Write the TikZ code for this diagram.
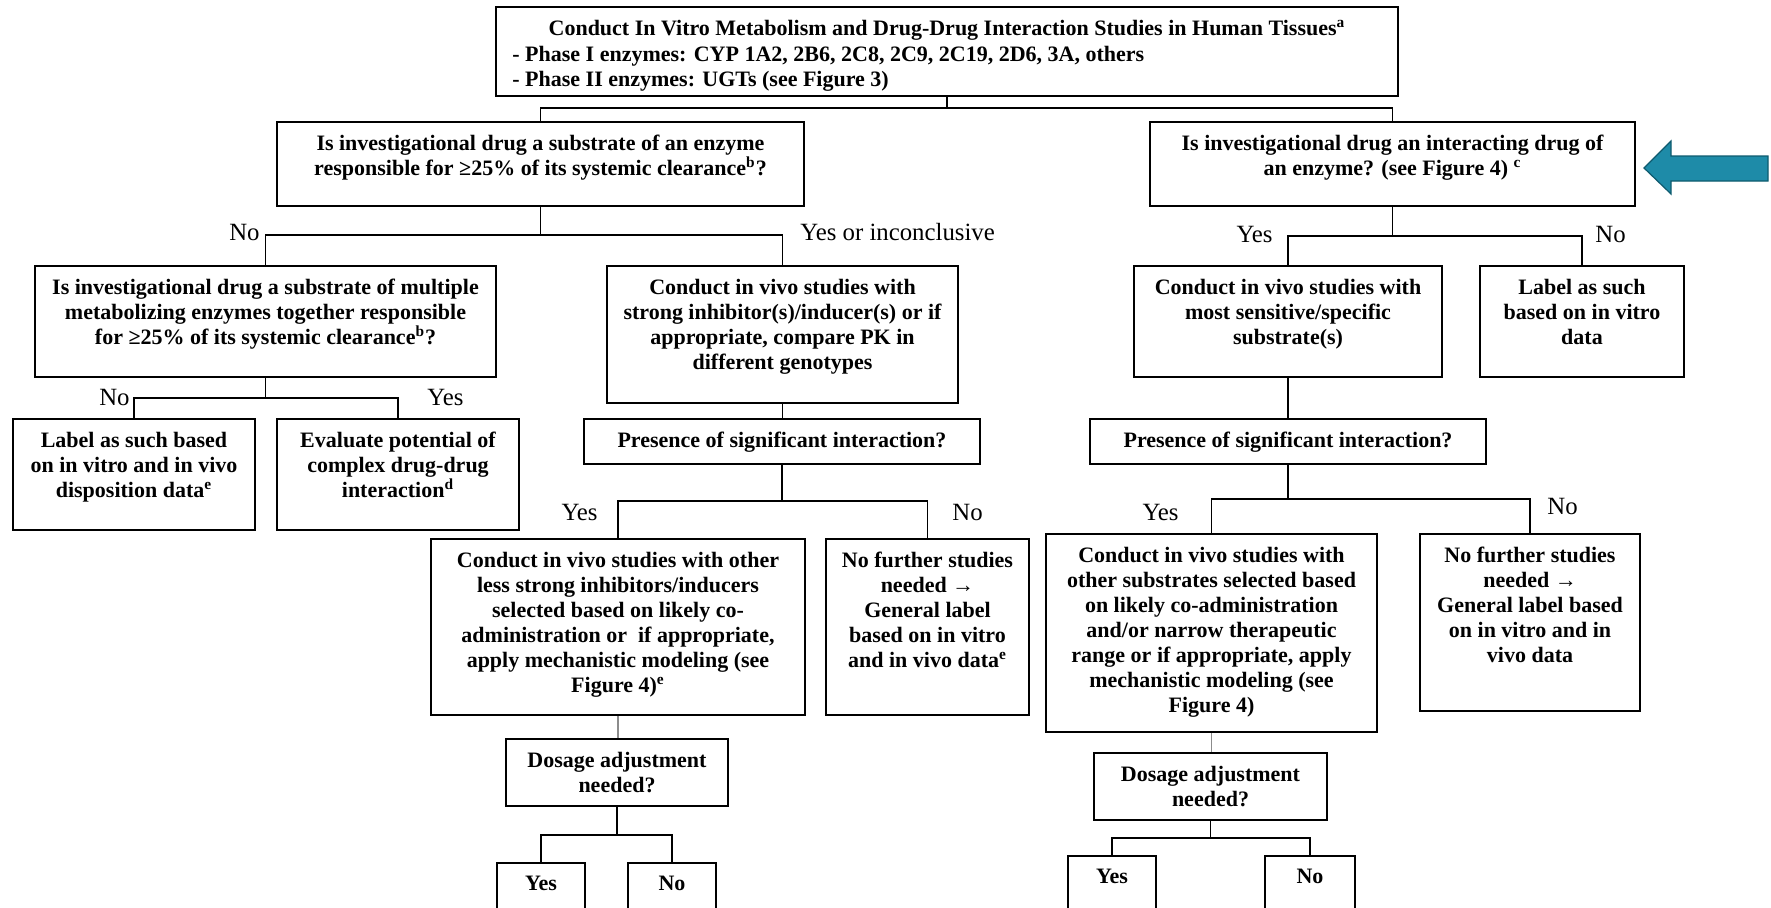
\documentclass[tikz,border=0pt]{standalone}
\usepackage{fontspec}
\setmainfont{Liberation Serif}
\usetikzlibrary{fit,calc}
\definecolor{arrowfill}{HTML}{1E8BA8}
\definecolor{arrowline}{HTML}{0E5A6E}
\begin{document}
\begin{tikzpicture}[x=0.5pt,y=-0.5pt,
  bx/.style={draw,line width=1pt,inner sep=0pt,fill=white},
  txt/.style={align=center,inner sep=0pt,anchor=north,font=\fontsize{11}{12.5}\selectfont\bfseries},
  lbl/.style={inner sep=0pt,font=\fontsize{12.4}{14}\selectfont},
  conn/.style={line width=0.8pt},
  gconn/.style={line width=0.6pt,draw=black!45}]
\useasboundingbox (0,0) rectangle (1771,907);
\clip (0,0) rectangle (1771,907);

% ---------- boxes ----------
\node[bx,fit={(496,7) (1398,96)}] (top) {};
\node[bx,fit={(277,122) (804,206)}] (lq) {};
\node[bx,fit={(1150,122) (1635,206)}] (rq) {};
\node[bx,fit={(35,266) (496,377)}] (l1) {};
\node[bx,fit={(607,266) (958,403)}] (m1) {};
\node[bx,fit={(1134,266) (1442,377)}] (r1) {};
\node[bx,fit={(1480,266) (1684,377)}] (r1b) {};
\node[bx,fit={(13,419) (255,530)}] (l2a) {};
\node[bx,fit={(277,419) (519,530)}] (l2b) {};
\node[bx,fit={(584,419) (980,464)}] (mp) {};
\node[bx,fit={(1090,419) (1486,464)}] (rp) {};
\node[bx,fit={(431,539) (805,715)}] (m3a) {};
\node[bx,fit={(826,539) (1029,715)}] (m3b) {};
\node[bx,fit={(1046,534) (1377,732)}] (r3a) {};
\node[bx,fit={(1420,534) (1640,711)}] (r3b) {};
\node[bx,fit={(506,739) (728,806)}] (md) {};
\node[bx,fit={(1094,753) (1327,820)}] (rd) {};
\node[bx,fit={(497,863) (585,930)}] (my) {};
\node[bx,fit={(628,863) (716,930)}] (mn) {};
\node[bx,fit={(1068,856) (1156,930)}] (ry) {};
\node[bx,fit={(1265,856) (1355,930)}] (rn) {};

% ---------- texts ----------
\node[txt] (top-t) at ([yshift=-7pt]top.north) {Conduct In Vitro Metabolism and Drug-Drug Interaction Studies in Human Tissues\textsuperscript{a}};
\node[txt,anchor=north west,align=left] (top-l) at (512,46) {- Phase I enzymes: CYP 1A2, 2B6, 2C8, 2C9, 2C19, 2D6, 3A, others\\- Phase II enzymes: UGTs (see Figure 3)};
\node[txt] (lq-t) at ([yshift=-7pt]lq.north) {Is investigational drug a substrate of an enzyme\\responsible for ≥25\% of its systemic clearance\textsuperscript{b}?};
\node[txt] (rq-t) at ([yshift=-7pt]rq.north) {Is investigational drug an interacting drug of\\an enzyme? (see Figure 4) \textsuperscript{c}};
\node[txt] (l1-t) at ([yshift=-7pt]l1.north) {Is investigational drug a substrate of multiple\\metabolizing enzymes together responsible\\for ≥25\% of its systemic clearance\textsuperscript{b}?};
\node[txt] (m1-t) at ([yshift=-7pt]m1.north) {Conduct in vivo studies with\\strong inhibitor(s)/inducer(s) or if\\appropriate, compare PK in\\different genotypes};
\node[txt] (r1-t) at ([yshift=-7pt]r1.north) {Conduct in vivo studies with\\most sensitive/specific\\substrate(s)};
\node[txt] (r1b-t) at ([yshift=-7pt]r1b.north) {Label as such\\based on in vitro\\data};
\node[txt] (l2a-t) at ([yshift=-7pt]l2a.north) {Label as such based\\on in vitro and in vivo\\disposition data\textsuperscript{e}};
\node[txt] (l2b-t) at ([yshift=-7pt]l2b.north) {Evaluate potential of\\complex drug-drug\\interaction\textsuperscript{d}};
\node[txt] (mp-t) at ([yshift=-7pt]mp.north) {Presence of significant interaction?};
\node[txt] (rp-t) at ([yshift=-7pt]rp.north) {Presence of significant interaction?};
\node[txt] (m3a-t) at ([yshift=-7pt]m3a.north) {Conduct in vivo studies with other\\less strong inhibitors/inducers\\selected based on likely co-\\administration or \ if appropriate,\\apply mechanistic modeling (see\\Figure 4)\textsuperscript{e}};
\node[txt] (m3b-t) at ([yshift=-7pt]m3b.north) {No further studies\\needed →\\General label\\based on in vitro\\and in vivo data\textsuperscript{e}};
\node[txt] (r3a-t) at ([yshift=-7pt]r3a.north) {Conduct in vivo studies with\\other substrates selected based\\on likely co-administration\\and/or narrow therapeutic\\range or if appropriate, apply\\mechanistic modeling (see\\Figure 4)};
\node[txt] (r3b-t) at ([yshift=-7pt]r3b.north) {No further studies\\needed →\\General label based\\on in vitro and in\\vivo data};
\node[txt] (md-t) at ([yshift=-7pt]md.north) {Dosage adjustment\\needed?};
\node[txt] (rd-t) at ([yshift=-7pt]rd.north) {Dosage adjustment\\needed?};
\node[txt] (my-t) at ([yshift=-7pt]my.north) {Yes};
\node[txt] (mn-t) at ([yshift=-7pt]mn.north) {No};
\node[txt] (ry-t) at ([yshift=-7pt]ry.north) {Yes};
\node[txt] (rn-t) at ([yshift=-7pt]rn.north) {No};

% ---------- connectors ----------
\draw[conn] (top.south) -- ++(0,11) coordinate (j1);
\draw[conn] (lq.north) |- (j1) -| (rq.north);
\draw[conn] (lq.south) -- ++(0,28) coordinate (j2);
\draw[conn] (l1.north) |- (j2) -| (m1.north);
\draw[conn] (rq.south) -- ++(0,29) coordinate (j3);
\draw[conn] (r1.north) |- (j3) -| (r1b.north);
\draw[conn] (l1.south) -- ++(0,20) coordinate (j4);
\draw[conn] (l2a.north) |- (j4) -| (l2b.north);
\draw[conn] (m1.south) -- (m1.south |- mp.north);
\draw[conn] (mp.south) -- ++(0,36) coordinate (j5);
\draw[conn] (m3a.north) |- (j5) -| (m3b.north);
\draw[gconn] (m3a.south) -- (m3a.south |- md.north);
\draw[conn] (md.south) -- ++(0,28) coordinate (j6);
\draw[conn] (my.north) |- (j6) -| (mn.north);
\draw[conn] (r1.south) -- (r1.south |- rp.north);
\draw[conn] (rp.south) -- ++(0,34) coordinate (j7);
\draw[conn] (r3a.north) |- (j7) -| (r3b.north);
\draw[gconn] (r3a.south) -- (r3a.south |- rd.north);
\draw[conn] (rd.south) -- ++(0,17) coordinate (j8);
\draw[conn] (ry.north) |- (j8) -| (rn.north);

% ---------- branch labels ----------
\node[lbl,anchor=east] (lb1) at (260,232) {No};
\node[lbl,anchor=west] (lb2) at (800,232) {Yes or inconclusive};
\node[lbl,anchor=east] (lb3) at (130,397) {No};
\node[lbl,anchor=west] (lb4) at (427,397) {Yes};
\node[lbl,anchor=east] (lb5) at (1273,234) {Yes};
\node[lbl,anchor=west] (lb6) at (1595,234) {No};
\node[lbl,anchor=east] (lb7) at (598,512) {Yes};
\node[lbl,anchor=west] (lb8) at (952,512) {No};
\node[lbl,anchor=east] (lb9) at (1179,512) {Yes};
\node[lbl,anchor=west] (lb10) at (1547,506) {No};

% ---------- side arrow ----------
\filldraw[fill=arrowfill,draw=arrowline,line width=0.6pt]
  (1644,168) -- (1671,141) -- (1671,156) -- (1768,156) -- (1768,181)
  -- (1671,181) -- (1671,194) -- cycle;
\end{tikzpicture}
\end{document}
